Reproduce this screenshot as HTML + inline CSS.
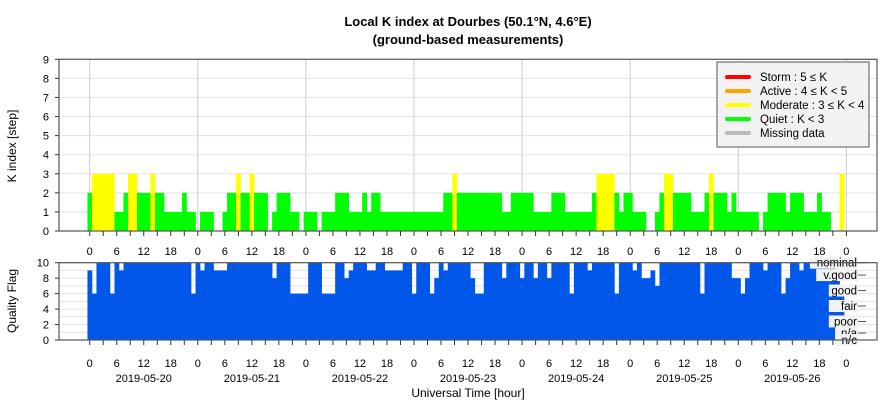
<!DOCTYPE html>
<html><head><meta charset="utf-8"><style>
body{margin:0;background:#fff;}
svg{display:block;font-family:"Liberation Sans",sans-serif;}
</style></head><body>
<svg id="chart" width="886" height="400" viewBox="0 0 886 400" xmlns="http://www.w3.org/2000/svg">
<rect width="886" height="400" fill="#fff"/>
<text x="468" y="26" text-anchor="middle" font-size="13" font-weight="bold">Local K index at Dourbes (50.1°N, 4.6°E)</text>
<text x="468" y="44" text-anchor="middle" font-size="13" font-weight="bold">(ground-based measurements)</text>
<g id="topPanel"></g>
<g id="botPanel"></g>
<text transform="translate(16,146) rotate(-90)" text-anchor="middle" font-size="12">K index [step]</text>
<text transform="translate(16,301) rotate(-90)" text-anchor="middle" font-size="12">Quality Flag</text>
<text x="468" y="397" text-anchor="middle" font-size="12">Universal Time [hour]</text>
<g>
<rect x="717" y="62" width="152" height="85" fill="#f2f2f2" stroke="#555" stroke-width="1"/>
<line x1="727" y1="77" x2="749" y2="77" stroke="#ff0000" stroke-width="4" stroke-linecap="round"/>
<text x="760" y="81" font-size="11.5">Storm : 5 ≤ K</text>
<line x1="727" y1="91" x2="749" y2="91" stroke="#ffa500" stroke-width="4" stroke-linecap="round"/>
<text x="760" y="95" font-size="11.5">Active : 4 ≤ K &lt; 5</text>
<line x1="727" y1="105" x2="749" y2="105" stroke="#ffff00" stroke-width="4" stroke-linecap="round"/>
<text x="760" y="109" font-size="11.5">Moderate : 3 ≤ K &lt; 4</text>
<line x1="727" y1="119" x2="749" y2="119" stroke="#00ff00" stroke-width="4" stroke-linecap="round"/>
<text x="760" y="123" font-size="11.5">Quiet : K &lt; 3</text>
<line x1="727" y1="133" x2="749" y2="133" stroke="#bbbbbb" stroke-width="4" stroke-linecap="round"/>
<text x="760" y="137" font-size="11.5">Missing data</text>
</g>
</svg>
<script>
const kValues=[2,3,3,3,3,3,1,1,2,3,3,2,2,2,3,2,2,1,1,1,1,2,1,1,
0,1,1,1,0,0,1,2,2,3,2,2,3,2,2,2,0,1,2,2,2,1,1,0,
1,1,1,0,1,1,1,2,2,2,1,1,1,2,1,2,2,1,1,1,1,1,1,1,
1,1,1,1,1,1,1,2,2,3,2,2,2,2,2,2,2,2,2,2,1,1,2,2,
2,2,2,1,1,1,1,2,2,2,1,1,1,1,1,1,2,3,3,3,3,2,1,2,
2,1,1,1,0,0,1,2,3,3,2,2,2,2,1,1,1,2,3,2,2,2,1,2,
1,1,1,1,1,0,1,2,2,2,2,1,2,2,2,1,1,1,2,1,1,0,0,3];
const qualityValues=[9,6,10,10,10,6,10,9,10,10,10,10,10,10,10,10,10,10,10,10,10,10,10,6,
10,9,10,10,9,9,9,10,10,10,10,10,10,10,10,10,10,8,10,10,10,6,6,6,
6,10,10,10,6,6,6,10,10,8,9,10,10,10,9,9,10,10,9,9,9,9,10,10,
6,10,10,10,6,8,10,9,10,10,10,10,10,8,6,6,10,10,10,10,8,10,10,10,
8,10,10,8,10,10,8,10,10,10,10,6,10,10,10,9,10,10,10,10,10,6,10,10,
10,9,10,8,8,9,7,10,10,10,10,10,10,10,10,10,6,10,10,10,10,10,10,8,
8,6,8,10,10,10,9,10,10,10,6,8,10,10,9,10,10,10,10,10,10,9.5,8,7];
const dayLabels=["2019-05-20","2019-05-21","2019-05-22","2019-05-23","2019-05-24","2019-05-25","2019-05-26"];
const hourTickLabels=["0","6","12","18"];
const kTicks=[0,1,2,3,4,5,6,7,8,9];
const qTicks=[0,2,4,6,8,10];
const qualityNames=["nominal","v.good","good","fair","poor","n/a","n/c"];
const qualityNameLevels=[10,8.4,6.4,4.4,2.4,0.9,0];

const NS="http://www.w3.org/2000/svg";
const X0=89.7,HW=4.504,PL=59,PR=877;
const TT=59.3,TB=231,BT=262.7,BB=340;
const xs=h=>X0+h*HW;
const yk=v=>TB-(TB-TT)*v/9;
const yq=v=>BB-(BB-BT)*v/10;
function mk(tag,attrs,parent){const e=document.createElementNS(NS,tag);for(const k in attrs)e.setAttribute(k,attrs[k]);parent.appendChild(e);return e;}
const topG=document.getElementById('topPanel'),botG=document.getElementById('botPanel');
kTicks.forEach(v=>{const g=mk('line',{x1:PL,x2:PR,y1:yk(v),y2:yk(v),stroke:'#e3e3e3','stroke-width':1},topG);


const t=mk('text',{x:PL-10,y:yk(v)+4,'text-anchor':'end','font-size':11},topG);t.textContent=v;


mk('line',{x1:PL-4,x2:PL,y1:yk(v),y2:yk(v),stroke:'#333'},topG);});
for(let d=0;d<=7;d++){const g=mk('line',{x1:xs(d*24),x2:xs(d*24),y1:TT,y2:TB,stroke:'#cccccc'},topG);

}
kValues.forEach((v,i)=>{if(v<=0)return;
const c=v>=5?'#ff0000':v>=4?'#ffa500':v>=3?'#ffff00':'#00ff00';
const r=mk('rect',{x:xs(i-0.5),y:yk(v),width:HW+0.3,height:TB-yk(v),fill:c},topG);

});
mk('rect',{x:PL,y:TT,width:PR-PL,height:TB-TT,fill:'none',stroke:'#555','stroke-width':1.2},topG);
for(let h=0;h<=168;h+=3){mk('line',{x1:xs(h),x2:xs(h),y1:TB,y2:TB+5,stroke:'#333'},topG);
mk('line',{x1:xs(h),x2:xs(h),y1:BB,y2:BB+5,stroke:'#333'},botG);
if(h%6===0){const lab=hourTickLabels[(h/6)%4];
const t=mk('text',{x:xs(h),y:255,'text-anchor':'middle','font-size':11},topG);t.textContent=lab;


const t2=mk('text',{x:xs(h),y:367,'text-anchor':'middle','font-size':11},botG);t2.textContent=lab;

}}
dayLabels.forEach((d,i)=>{const t=mk('text',{x:xs(i*24+12),y:382,'text-anchor':'middle','font-size':11},botG);t.textContent=d;

});
for(let v=0;v<=10;v++){mk('line',{x1:PL,x2:PR,y1:yq(v),y2:yq(v),stroke:'#e3e3e3'},botG);}
qTicks.forEach(v=>{const t=mk('text',{x:PL-10,y:yq(v)+4,'text-anchor':'end','font-size':11},botG);t.textContent=v;


mk('line',{x1:PL-4,x2:PL,y1:yq(v),y2:yq(v),stroke:'#333'},botG);});
qualityValues.forEach((v,i)=>{const r=mk('rect',{x:xs(i-0.5),y:yq(v),width:HW+0.3,height:BB-yq(v),fill:'#0057e9'},botG);

});
qualityNames.forEach((n,i)=>{const y=yq(qualityNameLevels[i]);
const w=n.length*6.3+4;
mk('rect',{x:858-w,y:y-6,width:w,height:12,fill:'#f2f2f2'},botG);
const t=mk('text',{x:857,y:y+4,'text-anchor':'end','font-size':11.5},botG);t.textContent=n;


mk('line',{x1:858,x2:866,y1:y,y2:y,stroke:'#555'},botG);});
mk('rect',{x:PL,y:BT,width:PR-PL,height:BB-BT,fill:'none',stroke:'#555','stroke-width':1.2},botG);
</script>
</body></html>
